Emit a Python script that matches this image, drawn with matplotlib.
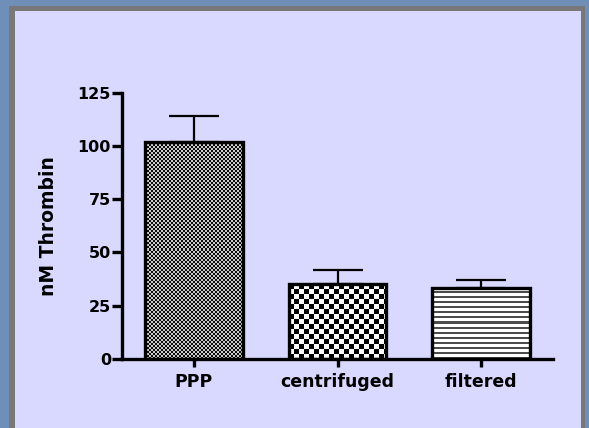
import numpy as np
import matplotlib
matplotlib.use('Agg')
from matplotlib import pyplot as plt
from matplotlib.patches import Rectangle

groups = ['PPP', 'centrifuged', 'filtered']
means = [102, 35, 33.5]
err_up = [12, 7, 3.5]

y_ticks = [0, 25, 50, 75, 100, 125]

BLUE = '#6f8fb8'
GRAY = '#787878'
LAV = '#d9d9ff'


def pattern(kind, nx, ny):
    # pixel textures for the bars
    jj, ii = np.meshgrid(np.arange(nx), np.arange(ny))
    if kind == 'fine':
        arr = np.where(((ii // 2) + (jj // 2)) % 2 == 0, 0.05, 0.8)
    elif kind == 'coarse':
        arr = np.where(((ii // 5) + (jj // 5)) % 2 == 0, 0.0, 1.0)
    else:
        arr = np.where(ii % 5 < 2, 0.3, 1.0)
    return arr


fig = plt.figure(figsize=(5.89, 4.28), dpi=100)
fig.patch.set_facecolor(BLUE)
W, H = 589.0, 428.0
# gray frame then lavender panel
fig.patches.append(Rectangle((9 / W, 0), (585 - 9) / W, (428 - 6) / H,
                             transform=fig.transFigure, facecolor=GRAY, edgecolor='none', zorder=-10))
fig.patches.append(Rectangle((15 / W, 0), (581 - 15) / W, (428 - 11) / H,
                             transform=fig.transFigure, facecolor=LAV, edgecolor='none', zorder=-9))

ax = fig.add_axes([122 / W, (428 - 359) / H, (553 - 122) / W, (359 - 92.7) / H])
ax.set_facecolor('none')

x = np.arange(len(groups))
bars = ax.bar(x, means, width=0.68, facecolor='none', edgecolor='black',
              linewidth=2.4, zorder=3)
ax.errorbar(x, means, yerr=[[0] * len(means), err_up], fmt='none', ecolor='black',
            elinewidth=1.6, capsize=18, capthick=1.6, zorder=4)

ax.set_xlim(-0.5, 2.5)
ax.set_ylim(0, 125)

kinds = ['fine', 'coarse', 'lines']
for b, k in zip(bars, kinds):
    x0, y0 = b.get_x(), b.get_y()
    x1, y1 = x0 + b.get_width(), y0 + b.get_height()
    p0 = ax.transData.transform((x0, y0))
    p1 = ax.transData.transform((x1, y1))
    nx = int(round(abs(p1[0] - p0[0])))
    ny = int(round(abs(p1[1] - p0[1])))
    arr = pattern(k, nx, ny)
    im = ax.imshow(arr, extent=(x0, x1, y1, y0), origin='upper', cmap='gray',
                   vmin=0, vmax=1, interpolation='nearest', aspect='auto', zorder=2)
    im.set_clip_path(b)

ax.set_xlim(-0.5, 2.5)
ax.set_ylim(0, 125)

for s in ['top', 'right']:
    ax.spines[s].set_visible(False)
for s in ['left', 'bottom']:
    ax.spines[s].set_linewidth(2.4)

ax.set_yticks(y_ticks)
ax.set_xticks(x)
ax.set_xticklabels(groups)
ax.tick_params(axis='y', direction='out', length=7, width=2.4, pad=1, labelsize=11.5)
ax.tick_params(axis='x', direction='out', length=6, width=2.4, pad=4, labelsize=12.5)
for lab in ax.get_xticklabels() + ax.get_yticklabels():
    lab.set_fontweight('bold')

ax.set_ylabel('nM Thrombin', fontsize=13.5, fontweight='bold')
ax.yaxis.set_label_coords(-0.148, 0.5)

fig.savefig('out.png', dpi=100, facecolor=fig.get_facecolor())
